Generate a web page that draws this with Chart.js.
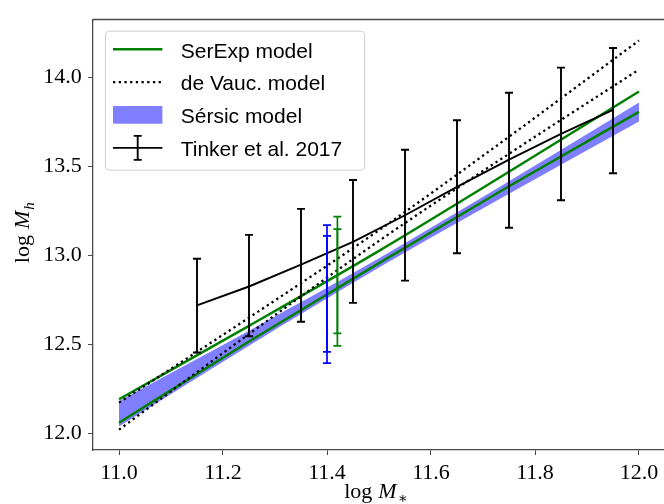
<!DOCTYPE html>
<html lang="en">
<head>
    <meta charset="UTF-8">
    <title>Halo mass vs stellar mass</title>
    <script src="https://cdn.jsdelivr.net/npm/chart.js"></script>
    <style>
        body { margin: 0; overflow: hidden; background: #fff; }
    </style>
</head>
<body>
    <canvas id="myChart" width="680" height="504"></canvas>

    <script>
        // model curves, sampled along log M*
        var modelX = [11.0, 11.25, 11.5, 11.75, 12.0];
        var serExpHigh = [12.193, 12.605, 13.026, 13.470, 13.921];
        var serExpLow = [12.061, 12.517, 12.957, 13.389, 13.806];
        var deVaucHigh = [12.174, 12.651, 13.142, 13.667, 14.207];
        var deVaucLow = [12.022, 12.559, 13.082, 13.571, 14.044];
        var sersicHigh = [12.183, 12.578, 12.985, 13.417, 13.859];
        var sersicLow = [12.040, 12.493, 12.932, 13.347, 13.752];

        // Tinker et al. 2017 and the ends of its error bars
        var tinkerX = [11.15, 11.25, 11.35, 11.45, 11.55, 11.65, 11.75, 11.85, 11.95];
        var tinkerY = [12.720, 12.826, 12.949, 13.077, 13.226, 13.385, 13.538, 13.683, 13.817];
        var tinkerLo = [12.455, 12.547, 12.628, 12.734, 12.859, 13.013, 13.156, 13.310, 13.462];
        var tinkerHi = [12.982, 13.116, 13.262, 13.424, 13.594, 13.759, 13.914, 14.055, 14.165];

        // single error bars of the Sersic and SerExp fits (outer and inner)
        var sersicBarX = [11.40, 11.40];
        var sersicBarLo = [12.396, 12.459];
        var sersicBarHi = [13.170, 13.110];
        var serExpBarX = [11.42, 11.42];
        var serExpBarLo = [12.493, 12.563];
        var serExpBarHi = [13.218, 13.148];

        var xTicks = [11.0, 11.2, 11.4, 11.6, 11.8, 12.0];
        var yTicks = [12.0, 12.5, 13.0, 13.5, 14.0];
        var legendLabels = ['SerExp model', 'de Vauc. model', 'Sérsic model', 'Tinker et al. 2017'];

        var GREEN = '#008000';
        var SPINE = '#4a4a4a';
        var TICK_FONT = { family: '"Liberation Serif", "DejaVu Serif", serif', size: 22 };
        var DOTS = [2.3, 3.4];

        function pts(xs, ys) {
            return xs.map(function (x, i) { return { x: x, y: ys[i] }; });
        }

        var errorBars = [
            { x: tinkerX, lo: tinkerLo, hi: tinkerHi, color: '#000', width: 1.9 },
            { x: sersicBarX, lo: sersicBarLo, hi: sersicBarHi, color: '#0000ff', width: 1.7 },
            { x: serExpBarX, lo: serExpBarLo, hi: serExpBarHi, color: GREEN, width: 1.7 }
        ];

        function drawBar(ctx, x, yLo, yHi, cap) {
            ctx.beginPath();
            ctx.moveTo(x, yLo); ctx.lineTo(x, yHi);
            ctx.moveTo(x - cap, yLo); ctx.lineTo(x + cap, yLo);
            ctx.moveTo(x - cap, yHi); ctx.lineTo(x + cap, yHi);
            ctx.stroke();
        }

        var errorBarPlugin = {
            id: 'errorBars',
            afterDatasetsDraw: function (chart) {
                var ctx = chart.ctx, xs = chart.scales.x, ys = chart.scales.y;
                ctx.save();
                errorBars.forEach(function (b) {
                    ctx.strokeStyle = b.color;
                    ctx.lineWidth = b.width;
                    b.x.forEach(function (x, i) {
                        drawBar(ctx, xs.getPixelForValue(x), ys.getPixelForValue(b.lo[i]),
                                ys.getPixelForValue(b.hi[i]), 4);
                    });
                });
                ctx.restore();
            }
        };

        // "log M" with a subscript, centred on (0,0) of the current transform
        function drawMathLabel(ctx, sub) {
            var serif = '"Liberation Serif", "DejaVu Serif", serif';
            var parts = [
                { t: 'log', font: '22px ' + serif, dy: 0, after: 6 },
                { t: 'M', font: 'italic 22px ' + serif, dy: 0, after: 1 },
                { t: sub, font: (sub === 'h' ? 'italic ' : '') + '15px ' + serif, dy: 5, after: 0 }
            ];
            var total = 0;
            parts.forEach(function (p) {
                ctx.font = p.font;
                p.w = ctx.measureText(p.t).width;
                total += p.w + p.after;
            });
            var x = -total / 2;
            ctx.textAlign = 'left';
            ctx.textBaseline = 'alphabetic';
            parts.forEach(function (p) {
                ctx.font = p.font;
                ctx.fillText(p.t, x, p.dy);
                x += p.w + p.after;
            });
        }

        var framePlugin = {
            id: 'frame',
            afterDraw: function (chart) {
                var ctx = chart.ctx, a = chart.chartArea;
                ctx.save();

                // top spine
                ctx.strokeStyle = SPINE;
                ctx.lineWidth = 1.3;
                ctx.beginPath();
                ctx.moveTo(a.left, a.top);
                ctx.lineTo(a.right, a.top);
                ctx.stroke();

                // axis titles
                ctx.fillStyle = '#000';
                ctx.save();
                ctx.translate((a.left + a.right) / 2 - 3, 498);
                drawMathLabel(ctx, '\u2217');
                ctx.restore();
                ctx.save();
                ctx.translate(29, (a.top + a.bottom) / 2 - 2);
                ctx.rotate(-Math.PI / 2);
                drawMathLabel(ctx, 'h');
                ctx.restore();

                // legend
                var lx = a.left + 12.4, ly = a.top + 11.7;
                ctx.beginPath();
                ctx.roundRect(lx, ly, 259.3, 139, 4);
                ctx.fillStyle = 'rgba(255,255,255,0.8)';
                ctx.fill();
                ctx.strokeStyle = '#cccccc';
                ctx.lineWidth = 1;
                ctx.stroke();

                var x0 = lx + 7.6, x1 = lx + 57, tx = lx + 75.3;
                legendLabels.forEach(function (label, i) {
                    var y = ly + 18 + 32.9 * i;
                    ctx.setLineDash([]);
                    if (i === 0) {
                        ctx.strokeStyle = GREEN; ctx.lineWidth = 2.5;
                        ctx.beginPath(); ctx.moveTo(x0, y); ctx.lineTo(x1, y); ctx.stroke();
                    } else if (i === 1) {
                        ctx.strokeStyle = '#000'; ctx.lineWidth = 2.3;
                        ctx.setLineDash(DOTS);
                        ctx.beginPath(); ctx.moveTo(x0, y); ctx.lineTo(x1, y); ctx.stroke();
                        ctx.setLineDash([]);
                    } else if (i === 2) {
                        ctx.fillStyle = 'rgba(0,0,255,0.5)';
                        ctx.fillRect(x0, y - 9, x1 - x0, 17.7);
                    } else {
                        ctx.strokeStyle = '#000'; ctx.lineWidth = 1.9;
                        ctx.beginPath(); ctx.moveTo(x0, y); ctx.lineTo(x1, y); ctx.stroke();
                        drawBar(ctx, (x0 + x1) / 2, y + 12, y - 12, 4);
                    }
                    ctx.fillStyle = '#000';
                    ctx.font = '21px "Liberation Sans", Arial, sans-serif';
                    ctx.textAlign = 'left';
                    ctx.textBaseline = 'alphabetic';
                    ctx.fillText(label, tx, y + 8.3);
                });
                ctx.restore();
            }
        };

        function curve(ys, color, width, dash, extra) {
            var ds = {
                data: pts(modelX, ys),
                showLine: true,
                borderColor: color,
                borderWidth: width,
                borderDash: dash || [],
                pointRadius: 0,
                cubicInterpolationMode: 'monotone',
                fill: false
            };
            return Object.assign(ds, extra || {});
        }

        var data = {
            datasets: [
                {
                    data: pts(tinkerX, tinkerY),
                    showLine: true,
                    borderColor: '#000',
                    borderWidth: 1.9,
                    pointRadius: 0,
                    fill: false,
                    order: 1
                },
                curve(deVaucHigh, '#000', 2.3, DOTS, { order: 2 }),
                curve(deVaucLow, '#000', 2.3, DOTS, { order: 2 }),
                curve(serExpHigh, GREEN, 2.5, null, { order: 3 }),
                curve(serExpLow, GREEN, 2.5, null, { order: 3 }),
                curve(sersicHigh, 'rgba(0,0,0,0)', 0, null,
                      { order: 5, fill: '+1', backgroundColor: 'rgba(0,0,255,0.5)' }),
                curve(sersicLow, 'rgba(0,0,0,0)', 0, null, { order: 5 })
            ]
        };

        var config = {
            type: 'scatter',
            data: data,
            options: {
                responsive: false,
                devicePixelRatio: 1,
                animation: false,
                events: [],
                layout: { padding: { left: 0, top: 11, right: 15, bottom: 0 } },
                plugins: {
                    legend: { display: false },
                    tooltip: { enabled: false }
                },
                scales: {
                    x: {
                        type: 'linear',
                        min: 10.95,
                        max: 12.05,
                        afterBuildTicks: function (s) {
                            s.ticks = xTicks.map(function (v) { return { value: v }; });
                        },
                        afterFit: function (s) { s.height = 54; },
                        ticks: {
                            callback: function (v) { return v.toFixed(1); },
                            font: TICK_FONT,
                            color: '#000',
                            padding: 5,
                            maxRotation: 0,
                            autoSkip: false
                        },
                        grid: { drawOnChartArea: false, drawTicks: true, tickLength: 5, color: SPINE, lineWidth: 1 },
                        border: { display: true, color: SPINE, width: 1.3 }
                    },
                    y: {
                        type: 'linear',
                        min: 11.908,
                        max: 14.325,
                        afterBuildTicks: function (s) {
                            s.ticks = yTicks.map(function (v) { return { value: v }; });
                        },
                        afterFit: function (s) { s.width = 93; },
                        ticks: {
                            callback: function (v) { return v.toFixed(1); },
                            font: TICK_FONT,
                            color: '#000',
                            padding: 6.3,
                            autoSkip: false
                        },
                        grid: { drawOnChartArea: false, drawTicks: true, tickLength: 5, color: SPINE, lineWidth: 1 },
                        border: { display: true, color: SPINE, width: 1.3 }
                    }
                }
            },
            plugins: [errorBarPlugin, framePlugin]
        };

        var ctx = document.getElementById('myChart').getContext('2d');
        var myChart = new Chart(ctx, config);
    </script>
</body>
</html>
